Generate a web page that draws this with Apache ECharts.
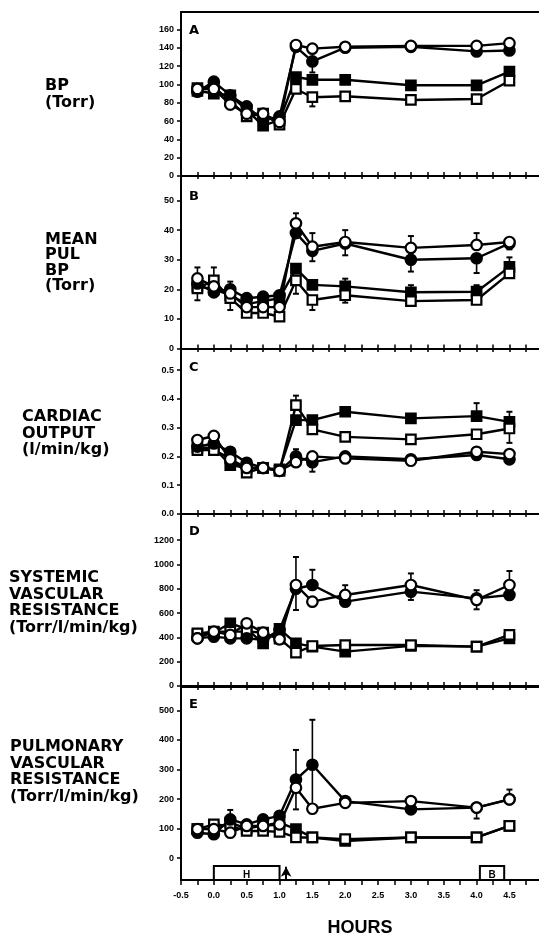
<!DOCTYPE html>
<html><head><meta charset="utf-8">
<script src="https://cdn.jsdelivr.net/npm/echarts@6/dist/echarts.min.js"></script>
<style>html,body{margin:0;padding:0;background:#fff}#c{width:539px;height:938px}</style>
</head><body><div id="c"></div>
<script>
// ---- shared x values (hours) ----
const hours = [-0.25, 0, 0.25, 0.5, 0.75, 1.0, 1.25, 1.5, 2.0, 3.0, 4.0, 4.5];
const xTickValues = [-0.5,-0.25,0,0.25,0.5,0.75,1,1.25,1.5,1.75,2,2.25,2.5,2.75,3,3.25,3.5,3.75,4,4.25,4.5,4.75];
const xLabelValues = [-0.5,0,0.5,1,1.5,2,2.5,3,3.5,4,4.5];

// ---- Panel A: BP (Torr) ----
const ocA = [95, 95, 78, 68, 68, 59, 143, 139, 141, 142, 142, 145];
const fcA = [92, 103, 88, 76, 61, 65, 141, 125, 140, 141, 136, 137];
const fsA = [93, 90, 88, 72, 55, 61, 108, 105, 105, 99, 99, 114];
const osA = [96, 97, 82, 65, 68, 56, 95, 86, 87, 83, 84, 104];
const errA = { oc: [], fc: [[7, -12]], fs: [], os: [[7, -10]] };
const yTicksA = [0, 20, 40, 60, 80, 100, 120, 140, 160];
const yMinorA = [10, 30, 50, 70, 90, 110, 130, 150, 170];

// ---- Panel B: mean pulmonary BP (Torr) ----
const ocB = [23.7, 21, 18.6, 14, 14, 14, 42.3, 34.4, 36, 34, 35, 36];
const fcB = [22, 19, 20, 17, 17.5, 18, 39, 33, 35.5, 30, 30.5, 35.5];
const fsB = [21, 20, 18, 15, 16, 17, 27, 21.5, 21, 19, 19.2, 27.6];
const osB = [20.3, 23, 17, 12, 12, 10.8, 23, 16.4, 18, 16, 16.4, 25.4];
const errB = {
  oc: [[0, 3.7], [2, 4], [6, 3.4], [7, 4.6], [8, 4], [9, 4], [10, 4]],
  fc: [[7, -3.5], [8, -4], [9, -4], [10, -5], [11, -2]],
  fs: [[3, 3], [8, 2.6], [9, 2.4], [10, 2.2], [11, 3.2]],
  os: [[0, -4], [1, 4.4], [2, -4], [6, -4.5], [7, -3.4], [8, -2.5]]
};
const yTicksB = [0, 10, 20, 30, 40, 50];
const yMinorB = [5, 15, 25, 35, 45, 55];

// ---- Panel C: cardiac output (l/min/kg) ----
const ocC = [0.257, 0.271, 0.19, 0.16, 0.16, 0.15, 0.18, 0.20, 0.193, 0.185, 0.216, 0.208];
const fcC = [0.234, 0.245, 0.216, 0.178, 0.16, 0.15, 0.20, 0.18, 0.20, 0.19, 0.205, 0.19];
const fsC = [0.23, 0.23, 0.17, 0.16, 0.16, 0.155, 0.326, 0.326, 0.355, 0.332, 0.34, 0.32];
const osC = [0.222, 0.222, 0.193, 0.144, 0.16, 0.15, 0.378, 0.294, 0.268, 0.259, 0.277, 0.297];
const errC = {
  oc: [[6, 0.045]],
  fc: [[7, -0.033]],
  fs: [[10, 0.045], [11, 0.035]],
  os: [[6, 0.033], [11, -0.05]]
};
const yTicksC = [0, 0.1, 0.2, 0.3, 0.4, 0.5];
const yMinorC = [0.05, 0.15, 0.25, 0.35, 0.45, 0.55];

// ---- Panel D: systemic vascular resistance ----
const ocD = [392, 447, 420, 516, 439, 384, 831, 694, 749, 831, 708, 831];
const fcD = [392, 406, 392, 392, 380, 461, 800, 831, 694, 776, 721, 749];
const fsD = [420, 440, 516, 470, 351, 470, 351, 324, 283, 330, 324, 392];
const osD = [433, 447, 447, 447, 440, 390, 274, 329, 337, 337, 324, 420];
const errD = {
  oc: [[6, 230], [8, 80], [9, 95], [10, 80], [11, 115]],
  fc: [[6, -175], [7, 125], [9, -68], [10, -90]],
  fs: [],
  os: []
};
const yTicksD = [0, 200, 400, 600, 800, 1000, 1200];
const yMinorD = [100, 300, 500, 700, 900, 1100, 1300];

// ---- Panel E: pulmonary vascular resistance ----
const ocE = [98, 98, 86, 109, 109, 114, 238, 167, 187, 193, 171, 199];
const fcE = [86, 81, 131, 114, 131, 143, 266, 316, 193, 165, 171, 199];
const fsE = [98, 100, 120, 100, 110, 120, 98, 70, 58, 70, 70, 109];
const osE = [98, 114, 109, 92, 92, 89, 70, 70, 64, 70, 70, 109];
const errE = {
  oc: [[6, -73], [10, -37], [11, 33]],
  fc: [[2, 32], [6, 100], [7, 152], [7, -150]],
  fs: [],
  os: []
};
const yTicksE = [0, 100, 200, 300, 400, 500];
const yMinorE = [50, 150, 250, 350, 450, 550];

// ---- annotations on the time axis ----
const hBox = [0, 1.0];
const bBox = [4.05, 4.42];
const arrowX = 1.1;
const boxTop = -27;

// ---- labels ----
const panelLetters = ['A', 'B', 'C', 'D', 'E'];
const panelTitles = ['BP\n(Torr)', 'MEAN\nPUL\nBP\n(Torr)', 'CARDIAC\nOUTPUT\n(l/min/kg)',
  'SYSTEMIC\nVASCULAR\nRESISTANCE\n(Torr/l/min/kg)', 'PULMONARY\nVASCULAR\nRESISTANCE\n(Torr/l/min/kg)'];

const panels = [
  { top: 12, height: 164, min: 0, max: 179, ticks: yTicksA, minor: yMinorA, d: [ocA, fcA, fsA, osA], err: errA, fmt: v => String(v) },
  { top: 176, height: 172.5, min: 0, max: 58.3, ticks: yTicksB, minor: yMinorB, d: [ocB, fcB, fsB, osB], err: errB, fmt: v => String(v) },
  { top: 349, height: 165, min: 0, max: 0.573, ticks: yTicksC, minor: yMinorC, d: [ocC, fcC, fsC, osC], err: errC, fmt: v => v.toFixed(1) },
  { top: 514, height: 172, min: 0, max: 1415, ticks: yTicksD, minor: yMinorD, d: [ocD, fcD, fsD, osD], err: errD, fmt: v => String(v) },
  { top: 687, height: 194, min: -74, max: 579, ticks: yTicksE, minor: yMinorE, d: [ocE, fcE, fsE, osE], err: errE, fmt: v => String(v) }
];

const titleLayout = [
  { left: 45, top: 77.5, lh: 17 },
  { left: 45, top: 232, lh: 15.5 },
  { left: 22, top: 409, lh: 16.5 },
  { left: 9, top: 569.5, lh: 16.7 },
  { left: 10, top: 738.5, lh: 16.7 }
];
const letterCenters = [31, 197, 368, 532, 705];

const BLACK = '#000';
const axisFont = { fontFamily: 'Liberation Sans', fontWeight: 'bold', fontSize: 9, color: BLACK };

const grid = [], xAxis = [], yAxis = [], series = [], title = [];

function renderErr(params, api) {
  const x = api.value(0), v = api.value(1), d = api.value(2);
  const p0 = api.coord([x, v]);
  const p1 = api.coord([x, v + d]);
  return {
    type: 'group', children: [
      { type: 'line', shape: { x1: p0[0], y1: p0[1], x2: p1[0], y2: p1[1] }, style: { stroke: BLACK, lineWidth: 1.6 } },
      { type: 'line', shape: { x1: p1[0] - 3, y1: p1[1], x2: p1[0] + 3, y2: p1[1] }, style: { stroke: BLACK, lineWidth: 2 } }
    ]
  };
}

const styles = [
  { key: 'oc', symbol: 'circle', size: 10.5, fill: '#fff' },
  { key: 'fc', symbol: 'circle', size: 10.5, fill: BLACK },
  { key: 'fs', symbol: 'rect', size: 9.5, fill: BLACK },
  { key: 'os', symbol: 'rect', size: 9.5, fill: '#fff' }
];
const drawOrder = [2, 3, 1, 0];

panels.forEach((p, i) => {
  grid.push({ left: 181, right: 0, top: p.top, height: p.height });
  const last = i === 4;
  xAxis.push({
    gridIndex: i, type: 'value', min: -0.5, max: 4.95, position: 'bottom',
    axisLine: { onZero: false, lineStyle: { color: BLACK, width: 2 } },
    axisTick: { show: true, customValues: xTickValues, inside: !last, length: last ? 5 : 4, lineStyle: { color: BLACK, width: 1.5 } },
    axisLabel: { show: last, customValues: xLabelValues, formatter: v => v.toFixed(1), margin: 11, ...axisFont },
    splitLine: { show: false },
    name: last ? 'HOURS' : '', nameLocation: 'middle', nameGap: 39,
    nameTextStyle: { fontFamily: 'Liberation Sans', fontWeight: 'bold', fontSize: 18, color: BLACK }
  });
  xAxis.push({
    gridIndex: i, type: 'value', min: -0.5, max: 4.95, position: 'top',
    axisLine: { onZero: false, lineStyle: { color: BLACK, width: 2 } },
    axisTick: { show: i > 0, customValues: xTickValues, inside: true, length: 3, lineStyle: { color: BLACK, width: 1.5 } },
    axisLabel: { show: false }, splitLine: { show: false }
  });
  yAxis.push({
    gridIndex: i, type: 'value', min: p.min, max: p.max,
    axisLine: { onZero: false, lineStyle: { color: BLACK, width: 2 } },
    axisTick: { show: true, customValues: p.ticks, length: 4, lineStyle: { color: BLACK, width: 1.5 } },
    axisLabel: { customValues: p.ticks, formatter: p.fmt, margin: 7, ...axisFont },
    splitLine: { show: false }
  });
  yAxis.push({
    gridIndex: i, type: 'value', min: p.min, max: p.max,
    axisLine: { show: false, onZero: false },
    axisTick: { show: true, customValues: p.minor, length: 2, lineStyle: { color: BLACK, width: 1.2 } },
    axisLabel: { show: false }, splitLine: { show: false }
  });

  // error bars
  styles.forEach((s, k) => {
    const vals = p.d[k];
    const items = (p.err[s.key] || []).map(([idx, dv]) => [hours[idx], vals[idx], dv]);
    if (items.length) {
      series.push({
        type: 'custom', xAxisIndex: 2 * i, yAxisIndex: 2 * i, z: 1, silent: true,
        renderItem: renderErr, data: items, clip: false
      });
    }
  });

  drawOrder.forEach(k => {
    const s = styles[k];
    const ser = {
      type: 'line', xAxisIndex: 2 * i, yAxisIndex: 2 * i, z: 3, silent: true, animation: false,
      data: hours.map((h, j) => [h, p.d[k][j]]),
      symbol: s.symbol, symbolSize: s.size, showAllSymbol: true,
      lineStyle: { color: BLACK, width: 2.4 },
      itemStyle: { color: s.fill, borderColor: BLACK, borderWidth: 2.2, opacity: 1 }
    };
    if (last && k === 3) {
      ser.markArea = {
        silent: true,
        itemStyle: { color: '#fff', borderColor: BLACK, borderWidth: 2 },
        label: { show: true, position: 'inside', fontFamily: 'Liberation Sans', fontWeight: 'bold', fontSize: 10, color: BLACK, offset: [0, 2] },
        data: [
          [{ name: 'H', coord: [hBox[0], p.min] }, { coord: [hBox[1], boxTop] }],
          [{ name: 'B', coord: [bBox[0], p.min] }, { coord: [bBox[1], boxTop] }]
        ]
      };
      ser.markLine = {
        silent: true, symbol: ['none', 'arrow'], symbolSize: [8, 10],
        lineStyle: { color: BLACK, width: 2, type: 'solid' }, label: { show: false },
        data: [[{ coord: [arrowX, p.min] }, { coord: [arrowX, boxTop - 2] }]]
      };
    }
    series.push(ser);
  });

  const tl = titleLayout[i];
  title.push({
    text: panelTitles[i], left: tl.left, top: tl.top, padding: 0,
    textStyle: { fontFamily: 'DejaVu Sans', fontWeight: 'bold', fontSize: 16, lineHeight: tl.lh, color: BLACK }
  });
  title.push({
    text: panelLetters[i], left: 189, top: letterCenters[i] - 7, padding: 0,
    textStyle: { fontFamily: 'DejaVu Sans', fontWeight: 'bold', fontSize: 13, lineHeight: 14, color: BLACK }
  });
});

const chart = echarts.init(document.getElementById('c'), null, { renderer: 'canvas' });
chart.setOption({ animation: false, backgroundColor: '#fff', title, grid, xAxis, yAxis, series });
</script>
</body></html>
